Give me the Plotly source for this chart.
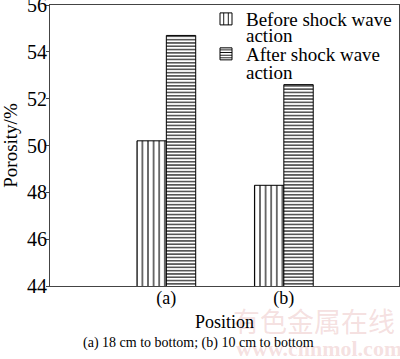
import plotly.graph_objects as go

categories = ["(a)", "(b)"]
before = [50.2, 48.3]
after = [54.7, 52.6]
series_names = ["Before shock wave", "After shock wave"]
series_name_cont = ["action", "action"]
y_ticks = [44, 46, 48, 50, 52, 54, 56]

FONT = "Liberation Serif"

fig = go.Figure()
fig.add_trace(go.Bar(
    x=categories, y=before, name=series_names[0], legend="legend",
    marker=dict(color="white", line=dict(color="black", width=1),
                pattern=dict(shape="|", size=5.6, solidity=0.2, fgcolor="black", bgcolor="white", fillmode="replace")),
))
fig.add_trace(go.Bar(
    x=categories, y=after, name=series_names[1], legend="legend2",
    marker=dict(color="white", line=dict(color="black", width=1),
                pattern=dict(shape="-", size=3.3, solidity=0.33, fgcolor="black", bgcolor="white", fillmode="replace")),
))

leg_common = dict(xanchor="left", yanchor="top", bgcolor="rgba(0,0,0,0)",
                  font=dict(size=19, family=FONT), itemwidth=30)

wm = "rgba(220,150,150,0.3)"

fig.update_layout(
    width=400, height=359,
    margin=dict(l=50, r=1, t=4, b=73),
    paper_bgcolor="white", plot_bgcolor="white",
    barmode="group", bargap=0.5, bargroupgap=0,
    font=dict(family=FONT, size=18, color="black"),
    showlegend=True,
    legend=dict(x=0.447, y=1.014, **leg_common),
    legend2=dict(x=0.447, y=0.890, **leg_common),
    xaxis=dict(range=[-0.99, 1.98], showline=True, linecolor="#444", linewidth=1,
               mirror=True, ticks="", showgrid=False, tickfont=dict(size=18),
               automargin=False, ticklabelstandoff=-5),
    yaxis=dict(range=[44, 56], tickvals=y_ticks, showline=True, linecolor="#444",
               linewidth=1, mirror=True, ticks="outside", ticklen=3, tickcolor="#444",
               showgrid=False, zeroline=False, tickfont=dict(size=20), automargin=False,
               ticklabeloverflow="allow", ticklabelstandoff=-5,
               title=dict(text="Porosity/%", font=dict(size=19), standoff=15)),
    annotations=[
        dict(text="有色金属在线", x=0.756, y=-0.121, xref="paper", yref="paper", showarrow=False,
             xanchor="center", yanchor="middle",
             font=dict(size=27, color=wm, family="Noto Sans CJK SC")),
        dict(text="<b>www.cnnmol.com</b>", x=0.77, y=-0.224, xref="paper", yref="paper", showarrow=False,
             xanchor="center", yanchor="middle",
             font=dict(size=22, color=wm, family=FONT)),
        dict(text="Position", x=0.5, y=-0.128, xref="paper", yref="paper", showarrow=False,
             xanchor="center", yanchor="middle", font=dict(size=18, family=FONT)),
        dict(text="(a) 18 cm to bottom; (b) 10 cm to bottom", x=0.425, y=-0.202, xref="paper", yref="paper",
             showarrow=False, xanchor="center", yanchor="middle", font=dict(size=14, family=FONT)),
        dict(text=series_name_cont[0], x=0.557, y=0.890, xref="paper", yref="paper", showarrow=False,
             xanchor="left", yanchor="middle", font=dict(size=19, family=FONT)),
        dict(text=series_name_cont[1], x=0.557, y=0.761, xref="paper", yref="paper", showarrow=False,
             xanchor="left", yanchor="middle", font=dict(size=19, family=FONT)),
    ],
)

fig.write_html("out.html", post_script="document.body.style.margin='0';",
               config={"displayModeBar": False})
